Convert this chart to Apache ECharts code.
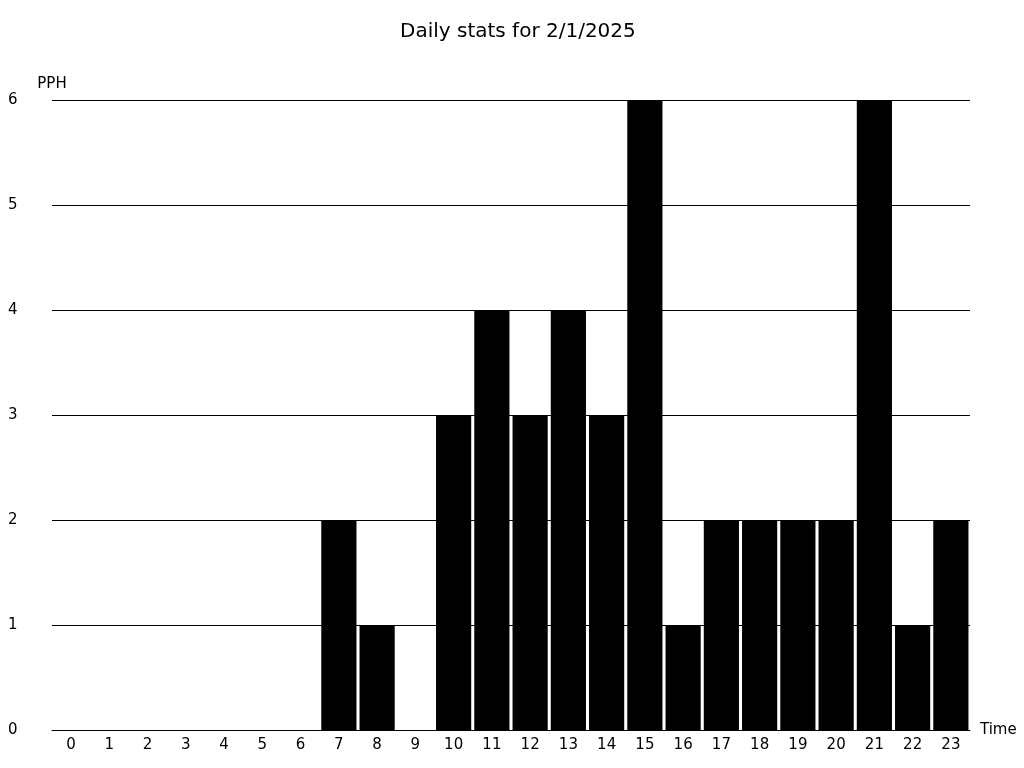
<!DOCTYPE html>
<html>
<head>
<meta charset="utf-8">
<script src="https://cdn.jsdelivr.net/npm/echarts@6/dist/echarts.min.js"></script>
<style>html,body{margin:0;padding:0;background:#fff;}#chart{width:1024px;height:768px;}</style>
</head>
<body>
<div id="chart"></div>
<script>
var hours = ['0','1','2','3','4','5','6','7','8','9','10','11','12','13','14','15','16','17','18','19','20','21','22','23'];
var pph = [0,0,0,0,0,0,0,2,1,0,3,4,3,4,3,6,1,2,2,2,2,6,1,2];
var yTicks = [0,1,2,3,4,5,6];

var chart = echarts.init(document.getElementById('chart'), null, {renderer:'canvas'});
var font = 'DejaVu Sans';
chart.setOption({
  animation: false,
  backgroundColor: '#ffffff',
  title: {
    text: 'Daily stats for 2/1/2025',
    left: 395, top: 17,
    textStyle: {fontFamily: font, fontSize: 20, fontWeight: 'normal', color: '#000'}
  },
  grid: {left: 52, right: 54, top: 100, bottom: 38, containLabel: false},
  xAxis: {
    type: 'category',
    data: hours,
    name: 'Time',
    nameLocation: 'end',
    nameGap: 10,
    nameTextStyle: {fontFamily: font, fontSize: 15, color: '#000'},
    axisLine: {show: true, lineStyle: {color: '#000', width: 1}},
    axisTick: {show: false},
    axisLabel: {fontFamily: font, fontSize: 15, color: '#000', margin: 8},
    splitLine: {show: false}
  },
  yAxis: {
    type: 'value',
    min: yTicks[0], max: yTicks[yTicks.length-1], interval: 1,
    name: 'PPH',
    nameGap: 8,
    nameTextStyle: {fontFamily: font, fontSize: 15, color: '#000'},
    axisLine: {show: false},
    axisTick: {show: false},
    axisLabel: {fontFamily: font, fontSize: 15, color: '#000', margin: 44, align: 'left'},
    splitLine: {show: true, lineStyle: {color: '#000', width: 1}}
  },
  series: [{
    type: 'bar',
    data: pph,
    barCategoryGap: '8%',
    itemStyle: {color: '#000'}
  }]
});
</script>
</body>
</html>
